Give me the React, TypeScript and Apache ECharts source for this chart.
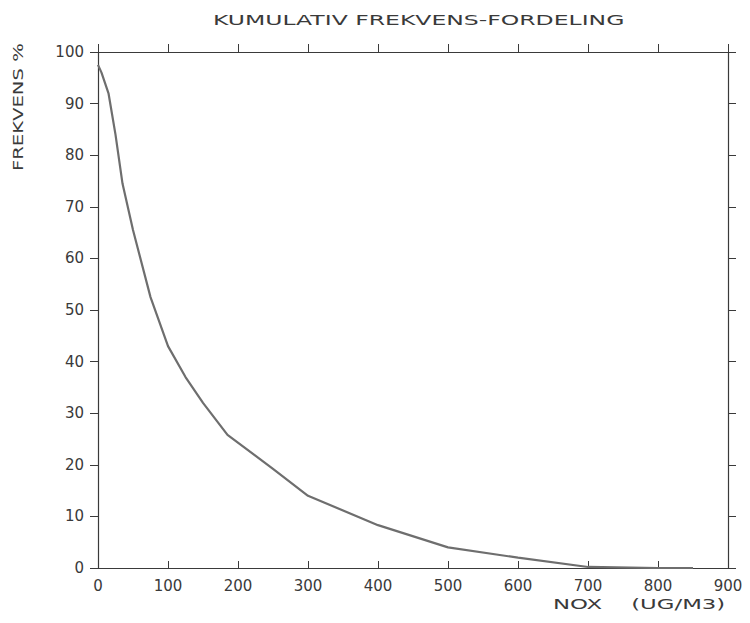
import React, { useEffect, useRef } from "react";
import * as echarts from "echarts";

const titleText = "KUMULATIV FREKVENS-FORDELING";
const yName = "FREKVENS %";
const xName = "NOX    (UG/M3)";

const noxValues = [0, 5, 15, 25, 35, 50, 75, 100, 125, 150, 185, 250, 300, 400, 500, 600, 700, 800, 850];
const freqValues = [97.5, 96, 92, 84, 74.5, 65.5, 52.5, 43, 37, 32, 25.8, 19.2, 14, 8.3, 4, 2, 0.2, 0, 0];

const FONT = "DejaVu Sans";
const INK = "#3a3a3a";

export default function App() {
  const ref = useRef<HTMLDivElement>(null);
  useEffect(() => {
    if (!ref.current) return;
    const chart = echarts.init(ref.current, undefined, { renderer: "svg" });
    const data = noxValues.map((x, i) => [x, freqValues[i]]);
    const axisLine = { show: true, onZero: false, lineStyle: { color: INK, width: 1.2 } };
    chart.setOption({
      animation: false,
      backgroundColor: "#ffffff",
      grid: { left: 98, right: 22, top: 52, bottom: 55, containLabel: false },
      xAxis: [
        {
          type: "value",
          position: "bottom",
          min: 0,
          max: 900,
          interval: 100,
          axisLine,
          axisTick: { show: true, inside: true, length: 7, lineStyle: { color: INK } },
          axisLabel: { fontFamily: FONT, fontSize: 15, color: INK, margin: 10 },
          splitLine: { show: false },
        },
        {
          type: "value",
          position: "top",
          min: 0,
          max: 900,
          interval: 100,
          axisLine,
          axisTick: { show: true, inside: false, length: 8, lineStyle: { color: INK } },
          axisLabel: { show: false },
          splitLine: { show: false },
        },
      ],
      yAxis: [
        {
          type: "value",
          position: "left",
          min: 0,
          max: 100,
          interval: 10,
          axisLine,
          axisTick: { show: true, inside: false, length: 8, lineStyle: { color: INK } },
          axisLabel: { fontFamily: FONT, fontSize: 15, color: INK, margin: 14 },
          splitLine: { show: false },
        },
        {
          type: "value",
          position: "right",
          min: 0,
          max: 100,
          interval: 10,
          axisLine,
          axisTick: { show: true, inside: false, length: 8, lineStyle: { color: INK } },
          axisLabel: { show: false },
          splitLine: { show: false },
        },
      ],
      series: [
        {
          type: "line",
          data,
          showSymbol: false,
          smooth: false,
          lineStyle: { color: "#6e6e6e", width: 2.2 },
          xAxisIndex: 0,
          yAxisIndex: 0,
        },
      ],
      graphic: [
        {
          type: "text",
          x: 213,
          y: 13,
          scaleX: 1.68,
          style: { text: titleText, font: `14px '${FONT}'`, fill: INK },
        },
        {
          type: "text",
          x: 11,
          y: 171,
          rotation: Math.PI / 2,
          scaleX: 1.4,
          style: { text: yName, font: `14px '${FONT}'`, fill: INK },
        },
        {
          type: "text",
          x: 553,
          y: 597,
          scaleX: 1.63,
          style: { text: xName, font: `14px '${FONT}'`, fill: INK },
        },
      ],
    });
    return () => chart.dispose();
  }, []);
  return (
    <div
      ref={ref}
      style={{ position: "fixed", left: 0, top: 0, width: 750, height: 623 }}
    />
  );
}
